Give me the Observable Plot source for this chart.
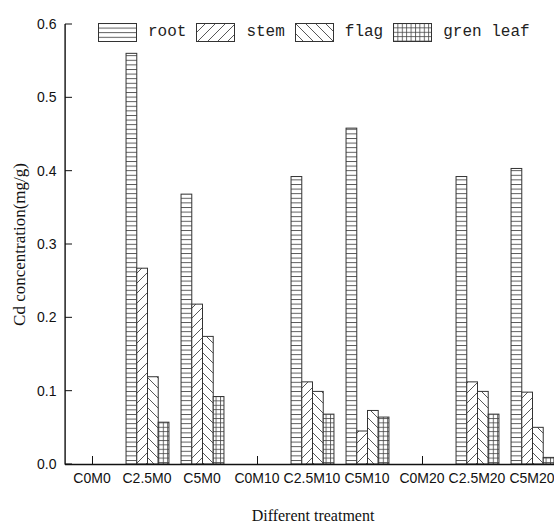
<!DOCTYPE html>
<html><head><meta charset="utf-8">
<script src="https://cdn.jsdelivr.net/npm/d3@7"></script>
<script src="https://cdn.jsdelivr.net/npm/@observablehq/plot@0.6"></script>
<style>
html,body{margin:0;padding:0;background:#fff;overflow:hidden;}
#wrap{position:relative;width:554px;height:523px;overflow:hidden;}
#chart svg{max-width:none;}
#legend{position:absolute;left:98px;top:23px;display:flex;align-items:center;font-family:"Liberation Mono",monospace;font-size:16px;color:#222;line-height:19px;}
.item{display:flex;align-items:center;margin-right:10px;}
.swatch{margin-right:11px;display:block;}
</style></head><body>
<div id="wrap"><div id="chart"></div><div id="legend"></div></div>
<script>
const treatments = ["C0M0","C2.5M0","C5M0","C0M10","C2.5M10","C5M10","C0M20","C2.5M20","C5M20"];
const parts = ["root","stem","flag","gren leaf"];
const root = [0, 0.560, 0.368, 0, 0.392, 0.458, 0, 0.392, 0.403];
const stem = [0, 0.267, 0.218, 0, 0.112, 0.045, 0, 0.112, 0.098];
const flag = [0, 0.119, 0.174, 0, 0.099, 0.073, 0, 0.099, 0.050];
const leaf = [0, 0.057, 0.092, 0, 0.068, 0.064, 0, 0.068, 0.009];
const yTicks = [0, 0.1, 0.2, 0.3, 0.4, 0.5, 0.6];
const patIds = ["pat-root","pat-stem","pat-flag","pat-leaf"];

const series = [root, stem, flag, leaf];
const data = treatments.flatMap((t, i) => parts.map((p, j) => ({treatment: t, part: p, value: series[j][i]})));

const defs = `<defs>
<pattern id="pat-root" patternUnits="userSpaceOnUse" width="6" height="4.6"><rect width="6" height="4.6" fill="#fff"/><path d="M0,0.5H6" stroke="#444" stroke-width="0.9"/></pattern>
<pattern id="pat-stem" patternUnits="userSpaceOnUse" width="10" height="10"><rect width="10" height="10" fill="#fff"/><path d="M-2,2L2,-2M0,10L10,0M8,12L12,8" stroke="#444" stroke-width="0.9"/></pattern>
<pattern id="pat-flag" patternUnits="userSpaceOnUse" width="10" height="10"><rect width="10" height="10" fill="#fff"/><path d="M-2,8L2,12M0,0L10,10M8,-2L12,2" stroke="#444" stroke-width="0.9"/></pattern>
<pattern id="pat-leaf" patternUnits="userSpaceOnUse" width="4.4" height="4.4"><rect width="4.4" height="4.4" fill="#fff"/><path d="M0,0.5H4.4M0.5,0V4.4" stroke="#444" stroke-width="0.8"/></pattern>
</defs>`;

// group layout within each treatment band (styling offsets)
const pIn = 0.22, step = 495 / 9, edge = step * pIn / 2, sub = step * (1 - pIn) / 4;
const ink = "#111";

const chart = Plot.plot({
  width: 560, height: 523,
  marginLeft: 65, marginRight: 0, marginTop: 24, marginBottom: 59,
  style: {fontFamily: "'Liberation Sans', Arial, sans-serif", fontSize: "14px", color: ink, background: "#fff"},
  x: {domain: treatments, padding: 0},
  y: {domain: [0, 0.6]},
  marks: [
    () => Object.assign(document.createElementNS("http://www.w3.org/2000/svg", "g"), {innerHTML: defs}),
    // inward x ticks at each treatment
    Plot.barY(treatments, {x: d => d, y1: 0, y2: 0, insetTop: -8, insetLeft: step / 2 - 0.5, insetRight: step / 2 - 0.5, fill: ink}),
    ...parts.map((p, j) => Plot.barY(data.filter(d => d.part === p), {
      x: "treatment", y: "value", fill: `url(#${patIds[j]})`, stroke: "#333", strokeWidth: 1,
      insetLeft: edge + j * sub, insetRight: edge + (3 - j) * sub
    })),
    Plot.ruleY([0], {stroke: ink, strokeWidth: 1.3}),
    // y axis line
    Plot.barY([treatments[0]], {x: d => d, y1: 0, y2: 0.6, insetLeft: -0.6, insetRight: step - 0.8, insetBottom: -0.6, fill: ink}),
    // inward y ticks
    Plot.barY(yTicks, {x: () => treatments[0], y1: d => d, y2: d => d, insetTop: -0.5, insetBottom: -0.5, insetRight: step - 7, fill: ink}),
    Plot.axisY({anchor: "left", ticks: yTicks, tickSize: 0, tickPadding: 9, tickFormat: ".1f", label: "Cd concentration(mg/g)", labelAnchor: "center", labelArrow: "none", labelOffset: 53, fontSize: 14}),
    Plot.axisX({anchor: "bottom", tickSize: 0, tickPadding: 9, dx: -1, label: "Different treatment", labelAnchor: "center", labelArrow: "none", labelOffset: 56, fontSize: 14})
  ]
});
chart.querySelectorAll('g[aria-label$="axis label"]').forEach(g => {
  g.setAttribute("font-family", "'Liberation Serif', 'Times New Roman', serif");
  g.setAttribute("font-size", g.getAttribute("aria-label").startsWith("y") ? "17" : "16");
});
document.getElementById("chart").appendChild(chart);

const legend = document.getElementById("legend");
parts.forEach((p, j) => {
  const item = document.createElement("div");
  item.className = "item";
  item.innerHTML = `<svg class="swatch" width="39" height="19"><rect x="0.5" y="0.5" width="38" height="18" fill="url(#${patIds[j]})" stroke="#333"/></svg><span>${p}</span>`;
  legend.appendChild(item);
});
</script>
</body></html>
